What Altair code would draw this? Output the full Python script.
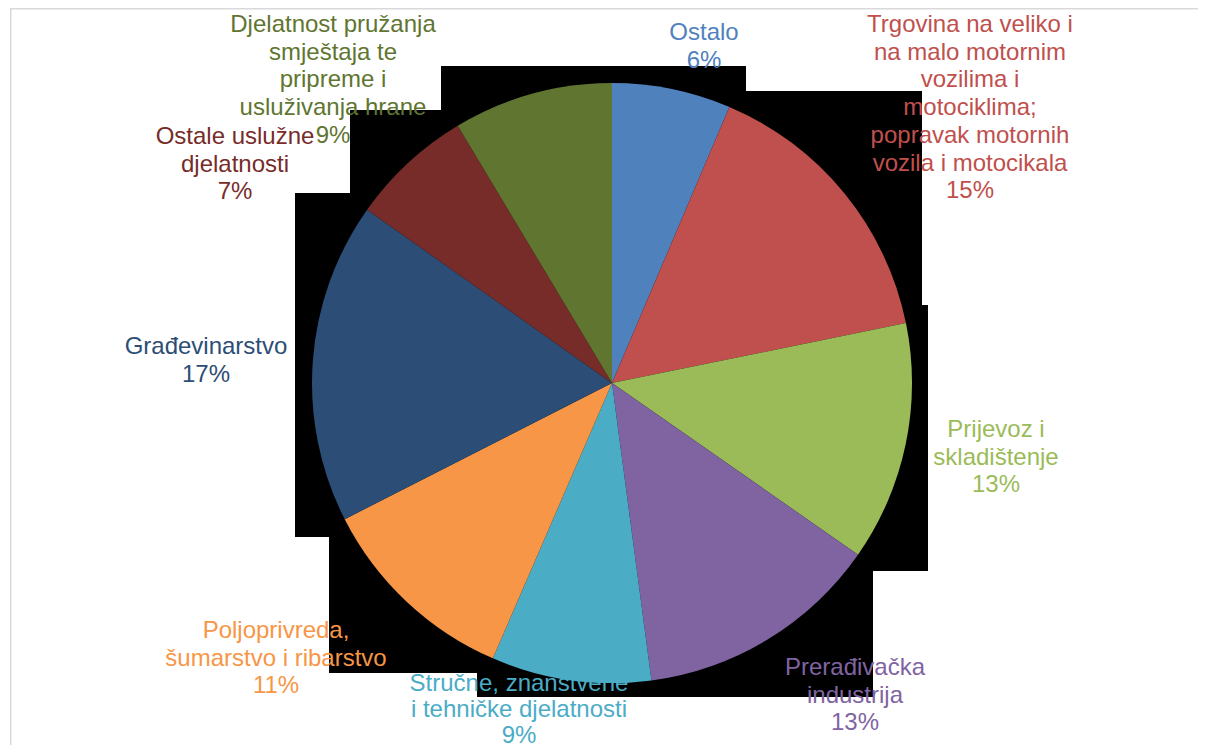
import altair as alt
import pandas as pd

# ---- data ----
categories = [
    "Ostalo",
    "Trgovina na veliko i\nna malo motornim\nvozilima i\nmotociklima;\npopravak motornih\nvozila i motocikala",
    "Prijevoz i\nskladištenje",
    "Prerađivačka\nindustrija",
    "Stručne, znanstvene\ni tehničke djelatnosti",
    "Poljoprivreda,\nšumarstvo i ribarstvo",
    "Građevinarstvo",
    "Ostale uslužne\ndjelatnosti",
    "Djelatnost pružanja\nsmještaja te\npripreme i\nusluživanja hrane",
]
values = [6.4, 15.4, 12.9, 13.2, 8.6, 11.0, 17.3, 6.6, 8.6]
colors = ["#4F81BD", "#C0504D", "#9BBB59", "#8064A2", "#4BACC6",
          "#F79646", "#2C4D75", "#772C2A", "#5F7530"]

df = pd.DataFrame({
    "idx": list(range(len(categories))),
    "cat": categories,
    "value": values,
})
df["label"] = [f"{c}\n{round(v):d}%" for c, v in zip(categories, values)]

# ---- layout (view pixel coordinates; y is the first text line) ----
CX, CY, R = 604, 375, 300
label_pos = [(696, 25), (962, 17), (988, 422), (847, 660), (511, 676),
             (268, 623), (198, 339), (227, 129), (325, 17)]
line_heights = [27.7, 27.7, 27.7, 27.7, 26.0, 27.7, 27.7, 27.7, 27.7]
# black backdrop bands behind the pie (page artefact), view pixels
bands = [(433, 738, 58, 83), (433, 914, 83, 102), (342, 914, 102, 185),
         (287, 914, 185, 297), (287, 920, 297, 529), (321, 920, 529, 563),
         (321, 865, 563, 665), (469, 865, 665, 689)]

base = alt.Chart(df)

layers = []
for (x1, x2, y1, y2) in bands:
    layers.append(
        base.transform_filter("datum.idx == 0").mark_rect(color="black").encode(
            x=alt.value(x1), x2=alt.value(x2), y=alt.value(y1), y2=alt.value(y2)
        )
    )

pie = base.mark_arc(radius=R).encode(
    theta=alt.Theta("value:Q", stack=True),
    color=alt.Color("cat:N", scale=alt.Scale(domain=categories, range=colors), legend=None),
    order=alt.Order("idx:Q", sort="ascending"),
    x=alt.value(CX),
    y=alt.value(CY),
)
layers.append(pie)

for i, (lx, ly) in enumerate(label_pos):
    layers.append(
        base.transform_filter(f"datum.idx == {i}").mark_text(
            font="Liberation Sans", fontSize=24, lineBreak="\n", lineHeight=line_heights[i],
            align="center", baseline="middle", color=colors[i],
        ).encode(text="label:N", x=alt.value(lx), y=alt.value(ly))
    )

# frame lines
frame_top = base.transform_filter("datum.idx == 0").mark_rule(color="#D9D9D9", strokeWidth=1.5).encode(
    x=alt.value(2), x2=alt.value(1198), y=alt.value(0.75))
frame_left = base.transform_filter("datum.idx == 0").mark_rule(color="#D9D9D9", strokeWidth=1.5).encode(
    x=alt.value(2.75), y=alt.value(0), y2=alt.value(745))
layers += [frame_top, frame_left]

chart = alt.layer(*layers).properties(
    width=1190, height=737, padding=0, autosize="none"
).configure_view(strokeWidth=0)

chart.save("out.html", embed_options={"renderer": "svg", "actions": False})
